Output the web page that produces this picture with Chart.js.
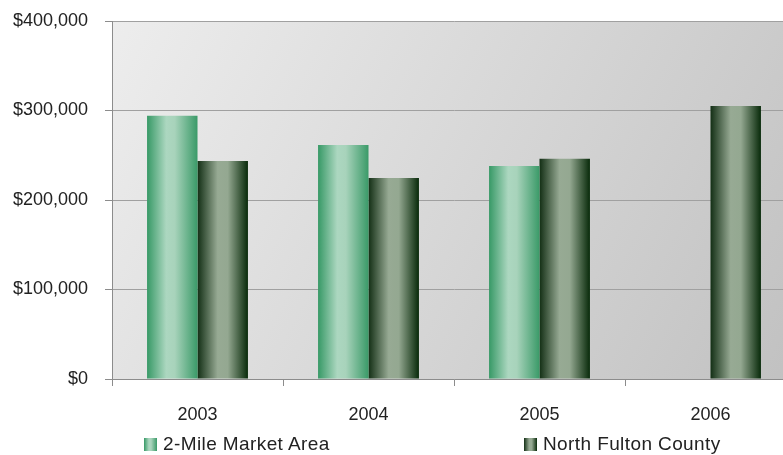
<!DOCTYPE html>
<html>
<head>
<meta charset="utf-8">
<script src="https://cdn.jsdelivr.net/npm/chart.js@4"></script>
<style>
  html, body { margin: 0; padding: 0; background: #fff; overflow: hidden; }
  #wrap { position: relative; width: 796px; height: 455px; }
  .legend { position: absolute; top: 433px; font-family: "Liberation Sans", Arial, sans-serif;
            font-size: 19px; color: #222; letter-spacing: 0.4px; white-space: nowrap; }
  .legend i { display: inline-block; width: 13px; height: 13px; vertical-align: -1px; margin-right: 6px; }
</style>
</head>
<body>
<div id="wrap">
  <canvas id="barChart" width="796" height="455"></canvas>
  <div class="legend" style="left:144px"><i id="sw0"></i>2-Mile Market Area</div>
  <div class="legend" style="left:524px"><i id="sw1"></i>North Fulton County</div>
</div>
<script>
// values
const years = ['2003', '2004', '2005', '2006'];
const twoMileArea = [294000, 261500, 238000, null];
const northFulton = [243500, 224500, 246000, 305000];
const seriesNames = ['2-Mile Market Area', 'North Fulton County'];

const catPct = 0.59;

// horizontal "cylinder" shading for each series
const greenStops = [[0, '#379966'], [0.38, '#acd7c0'], [0.55, '#a8d3bb'], [1, '#3a9a68']];
const darkStops = [[0, '#132f15'], [0.4, '#97aa94'], [0.6, '#94a891'], [1, '#082a0a']];

function cssGradient(stops) {
  return 'linear-gradient(to right, ' + stops.map(s => s[1] + ' ' + (s[0] * 100) + '%').join(', ') + ')';
}
document.getElementById('sw0').style.background = cssGradient(greenStops);
document.getElementById('sw1').style.background = cssGradient(darkStops);

function barFill(stops, side) {
  return (ctx) => {
    const chart = ctx.chart;
    const xs = chart.scales.x;
    if (ctx.type !== 'data' || !chart.chartArea || !xs) return stops[1][1];
    const step = xs.getPixelForValue(1) - xs.getPixelForValue(0);
    const w = step * catPct / 2;
    const c = xs.getPixelForValue(ctx.dataIndex);
    const left = side < 0 ? c - w : c;
    const g = chart.ctx.createLinearGradient(left, 0, left + w, 0);
    stops.forEach(s => g.addColorStop(s[0], s[1]));
    return g;
  };
}

// grey diagonal wash behind the plot
const plotBackground = {
  id: 'plotBackground',
  beforeDraw(chart) {
    const { ctx, chartArea: a } = chart;
    const g = ctx.createLinearGradient(a.left, a.top, a.right, a.bottom);
    g.addColorStop(0, '#ededed');
    g.addColorStop(1, '#c1c1c1');
    ctx.save();
    ctx.fillStyle = g;
    ctx.fillRect(a.left, a.top, a.right - a.left, a.bottom - a.top);
    ctx.restore();
  }
};

const font = { family: '"Liberation Sans", Arial, sans-serif', size: 18 };

new Chart(document.getElementById('barChart'), {
  type: 'bar',
  data: {
    labels: years,
    datasets: [{
      label: seriesNames[0],
      data: twoMileArea,
      backgroundColor: barFill(greenStops, -1),
      barPercentage: 1,
      categoryPercentage: catPct
    }, {
      label: seriesNames[1],
      data: northFulton,
      backgroundColor: barFill(darkStops, 1),
      barPercentage: 1,
      categoryPercentage: catPct
    }]
  },
  options: {
    responsive: false,
    animation: false,
    layout: { padding: { top: 21, left: 0, right: 0, bottom: 0 } },
    plugins: { legend: { display: false }, tooltip: { enabled: false } },
    scales: {
      x: {
        offset: true,
        afterFit: s => { s.height = 76; },
        grid: { display: true, drawOnChartArea: false, offset: true, tickLength: 7, color: '#8c8c8c' },
        border: { color: '#8c8c8c' },
        ticks: { color: '#222', font: font, padding: 18, maxRotation: 0 }
      },
      y: {
        min: 0,
        max: 400000,
        afterFit: s => { s.width = 112; s.paddingTop = 0; s.paddingBottom = 0; },
        grid: { color: '#a0a0a0', tickLength: 7, tickColor: '#8c8c8c' },
        border: { color: '#8c8c8c' },
        ticks: {
          stepSize: 100000,
          color: '#222',
          font: font,
          padding: 17,
          callback: v => '$' + v.toLocaleString('en-US')
        }
      }
    }
  },
  plugins: [plotBackground]
});
</script>
</body>
</html>
